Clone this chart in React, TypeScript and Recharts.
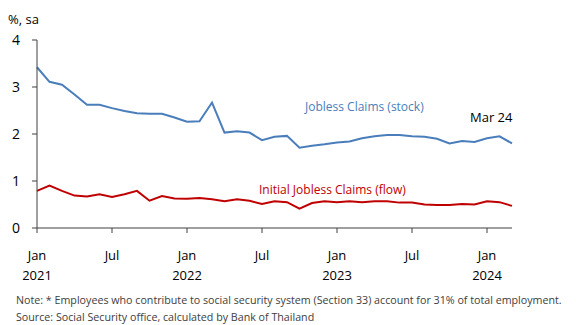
import React from 'react';
import { LineChart, Line, XAxis, YAxis } from 'recharts';

const MONTHS = [
  '2021-01', '2021-02', '2021-03', '2021-04', '2021-05', '2021-06', '2021-07', '2021-08', '2021-09', '2021-10', '2021-11', '2021-12',
  '2022-01', '2022-02', '2022-03', '2022-04', '2022-05', '2022-06', '2022-07', '2022-08', '2022-09', '2022-10', '2022-11', '2022-12',
  '2023-01', '2023-02', '2023-03', '2023-04', '2023-05', '2023-06', '2023-07', '2023-08', '2023-09', '2023-10', '2023-11', '2023-12',
  '2024-01', '2024-02', '2024-03',
];

const STOCK = [
  3.42, 3.11, 3.05, 2.84, 2.62, 2.62, 2.55, 2.49, 2.44, 2.43, 2.43, 2.35,
  2.26, 2.27, 2.67, 2.03, 2.06, 2.03, 1.87, 1.94, 1.96, 1.71, 1.75, 1.78,
  1.82, 1.84, 1.91, 1.95, 1.98, 1.98, 1.95, 1.94, 1.90, 1.80, 1.85, 1.83,
  1.91, 1.95, 1.80,
];

const FLOW = [
  0.79, 0.90, 0.79, 0.69, 0.67, 0.72, 0.66, 0.72, 0.79, 0.58, 0.68, 0.63,
  0.62, 0.64, 0.61, 0.57, 0.61, 0.58, 0.51, 0.57, 0.55, 0.41, 0.53, 0.57,
  0.55, 0.57, 0.55, 0.57, 0.57, 0.54, 0.54, 0.50, 0.49, 0.49, 0.51, 0.50,
  0.57, 0.55, 0.47,
];

const X_TICKS = ['2021-01', '2021-07', '2022-01', '2022-07', '2023-01', '2023-07', '2024-01'];
const Y_TICKS = [0, 1, 2, 3, 4];
const MONTH_NAMES: Record<string, string> = { '01': 'Jan', '07': 'Jul' };

const data = MONTHS.map((m, i) => ({ m, stock: STOCK[i], flow: FLOW[i] }));

const FONT = '"Open Sans", "Noto Sans", sans-serif';

const MonthTick = ({ x, y, payload }: any) => {
  const [year, mon] = String(payload.value).split('-');
  return (
    <g>
      <text x={x} y={y + 25} textAnchor="middle" fontSize={13} fill="#000" fontFamily={FONT}>
        {MONTH_NAMES[mon]}
      </text>
      {mon === '01' && (
        <text x={x} y={y + 45} textAnchor="middle" fontSize={13} fill="#000" fontFamily={FONT}>
          {year}
        </text>
      )}
    </g>
  );
};

const noteStyle: React.CSSProperties = {
  position: 'absolute',
  left: 16,
  fontSize: 10.7,
  lineHeight: '13px',
  color: '#404040',
  whiteSpace: 'nowrap',
};

export default function App() {
  return (
    <div style={{ position: 'absolute', left: 0, top: 0, width: 576, height: 325, background: '#fff', fontFamily: FONT }}>
      <LineChart width={576} height={290} data={data} margin={{ top: 40, right: 64, bottom: 0, left: 0 }}>
        <XAxis
          dataKey="m"
          ticks={X_TICKS}
          interval={0}
          tick={<MonthTick />}
          tickSize={5}
          height={62}
          stroke="#404040"
        />
        <YAxis
          domain={[0, 4]}
          ticks={Y_TICKS}
          width={37}
          tickSize={5}
          tickMargin={12}
          stroke="#404040"
          tick={{ fontSize: 14, fill: '#000', fontFamily: FONT }}
        />
        <Line dataKey="stock" stroke="#4a7ebb" strokeWidth={2} dot={false} isAnimationActive={false} />
        <Line dataKey="flow" stroke="#c00000" strokeWidth={2} dot={false} isAnimationActive={false} />
      </LineChart>
      <div style={{ position: 'absolute', left: 8, top: 10, fontSize: 13, color: '#000' }}>%, sa</div>
      <div style={{ position: 'absolute', left: 305, top: 98, fontSize: 12, color: '#4a7ebb' }}>Jobless Claims (stock)</div>
      <div style={{ position: 'absolute', left: 470, top: 108, fontSize: 13, color: '#000' }}>Mar 24</div>
      <div style={{ position: 'absolute', left: 259, top: 181, fontSize: 12, color: '#c00000' }}>Initial Jobless Claims (flow)</div>
      <div style={{ ...noteStyle, top: 294 }}>
        Note: * Employees who contribute to social security system (Section 33) account for 31% of total employment.
      </div>
      <div style={{ ...noteStyle, top: 311 }}>
        Source: Social Security office, calculated by Bank of Thailand
      </div>
    </div>
  );
}
